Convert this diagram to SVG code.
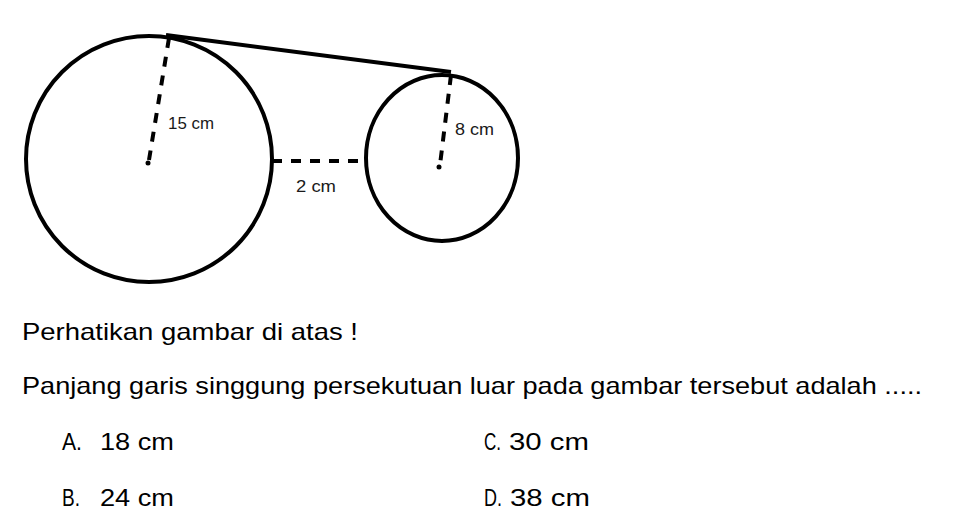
<svg xmlns="http://www.w3.org/2000/svg" width="962" height="530" viewBox="0 0 962 530">
<style>
.c{fill:none;stroke:#000;stroke-width:4}
.d{fill:none;stroke:#000;stroke-width:4;stroke-dasharray:10 9}
.lb{font-family:"Liberation Sans",Arial,sans-serif;font-size:17px;fill:#1a1a1a}
.t{font-family:"Liberation Sans",Arial,sans-serif;font-size:24px;fill:#000}
</style>
<rect width="962" height="530" fill="#fff"/>
<g id="big-circle">
<circle class="c" cx="149" cy="159" r="123"/>
<circle cx="148" cy="163" r="2.5" fill="#000"/>
<text class="lb" x="168" y="129" textLength="46" lengthAdjust="spacingAndGlyphs">15 cm</text>
</g>
<g id="small-circle">
<ellipse class="c" cx="442" cy="158" rx="76" ry="83"/>
<circle cx="439" cy="167" r="2.5" fill="#000"/>
<text class="lb" x="455" y="135" textLength="39" lengthAdjust="spacingAndGlyphs">8 cm</text>
</g>
<g id="connectors">
<line class="c" x1="166" y1="35" x2="451" y2="72"/>
<line class="d" x1="169" y1="38" x2="149" y2="160"/>
<line class="d" x1="451" y1="75" x2="440" y2="165"/>
<line class="d" x1="272" y1="161" x2="366" y2="161" stroke-dasharray="12 9"/>
<text class="lb" x="296" y="192" textLength="40" lengthAdjust="spacingAndGlyphs">2 cm</text>
</g>
<g id="question">
<text class="t" x="22" y="340" textLength="336" lengthAdjust="spacingAndGlyphs">Perhatikan gambar di atas !</text>
<text class="t" x="22" y="394" textLength="900" lengthAdjust="spacingAndGlyphs">Panjang garis singgung persekutuan luar pada gambar tersebut adalah .....</text>
<text class="t" x="62" y="450" textLength="20" lengthAdjust="spacingAndGlyphs">A.</text>
<text class="t" x="100" y="450" textLength="74" lengthAdjust="spacingAndGlyphs">18 cm</text>
<text class="t" x="484" y="450" textLength="17" lengthAdjust="spacingAndGlyphs">C.</text>
<text class="t" x="509" y="450" textLength="80" lengthAdjust="spacingAndGlyphs">30 cm</text>
<text class="t" x="62" y="506" textLength="18" lengthAdjust="spacingAndGlyphs">B.</text>
<text class="t" x="100" y="506" textLength="74" lengthAdjust="spacingAndGlyphs">24 cm</text>
<text class="t" x="484" y="506" textLength="18" lengthAdjust="spacingAndGlyphs">D.</text>
<text class="t" x="510" y="506" textLength="80" lengthAdjust="spacingAndGlyphs">38 cm</text>
</g>
</svg>
